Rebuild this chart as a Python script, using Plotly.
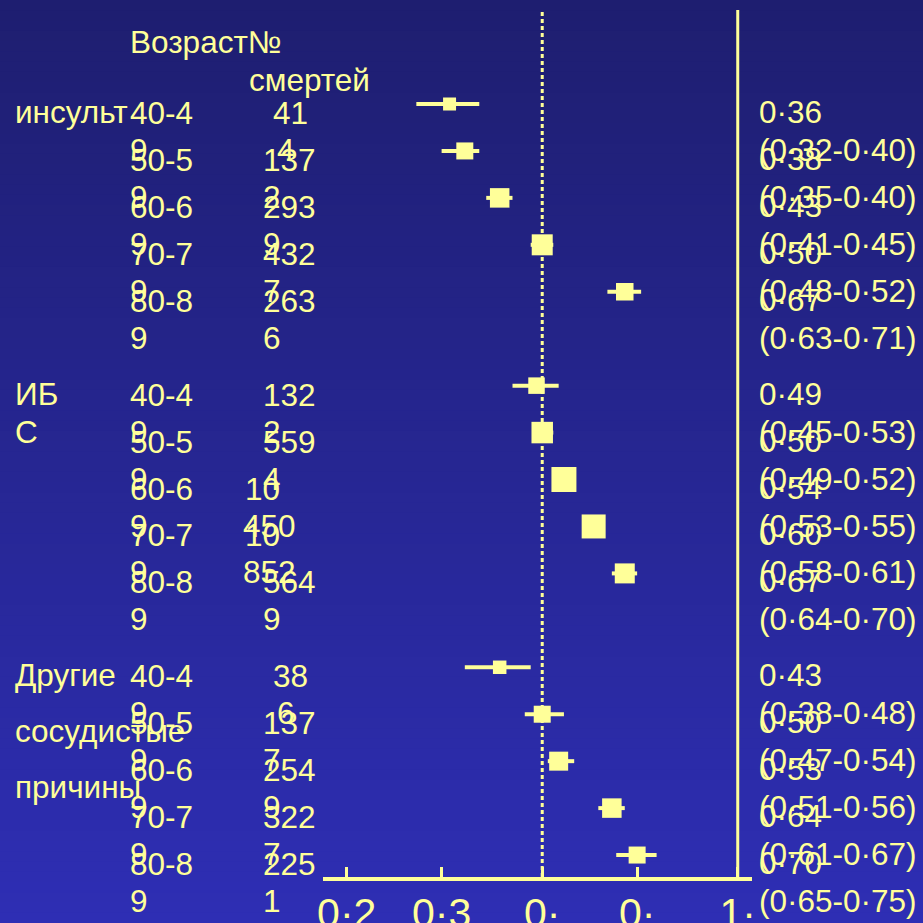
import plotly.graph_objects as go
import math

# ---------------- data ----------------
groups = [["инсульт"], ["ИБ", "С"], ["Другие", "сосудистые", "причины"]]
ages = ["40-49", "50-59", "60-69", "70-79", "80-89"]

deaths_stroke = [414, 1372, 2939, 4327, 2636]
deaths_ihd = [1322, 5594, 10450, 10852, 5649]
deaths_other = [386, 1377, 2549, 3227, 2251]

rr_stroke = [0.36, 0.38, 0.43, 0.50, 0.67]
lo_stroke = [0.32, 0.35, 0.41, 0.48, 0.63]
hi_stroke = [0.40, 0.40, 0.45, 0.52, 0.71]

rr_ihd = [0.49, 0.50, 0.54, 0.60, 0.67]
lo_ihd = [0.45, 0.49, 0.53, 0.58, 0.64]
hi_ihd = [0.53, 0.52, 0.55, 0.61, 0.70]

rr_other = [0.43, 0.50, 0.53, 0.64, 0.70]
lo_other = [0.38, 0.47, 0.51, 0.61, 0.65]
hi_other = [0.48, 0.54, 0.56, 0.67, 0.75]

# marker (box) sizes
size_stroke = [13, 17, 19.5, 21, 17.5]
size_ihd = [16.5, 21.5, 25, 24, 20]
size_other = [13.5, 17, 19, 19.5, 17]

tick_vals = [0.25, 0.35, 0.5, 0.7, 1.0]
tick_text = ["0·2", "0·3", "0·", "0·", "1·"]
ref_line = 0.5
null_line = 1.0

header_age = "Возраст№"
header_deaths = "смертей"

# ---------------- layout geometry ----------------
W = H = 923
L, R, T, B = 323, 171, 10, 46
PW = W - L - R
PH = H - T - B
ROW_PX = 46.94
FIRST_ROW_PX = 104
YC = "#FFFF99"
FONT = "Liberation Sans, Arial, sans-serif"
FS = 31.5


def px_x(px):
    return (px - L) / PW


def px_y(py):
    return (H - B - py) / PH


deaths_all = [deaths_stroke, deaths_ihd, deaths_other]
rr_all = [rr_stroke, rr_ihd, rr_other]
lo_all = [lo_stroke, lo_ihd, lo_other]
hi_all = [hi_stroke, hi_ihd, hi_other]
size_all = [size_stroke, size_ihd, size_other]

fig = go.Figure()

# gradient background
nb = 90
c_top = (30, 30, 112)
c_bot = (46, 46, 180)
shapes = []
for k in range(nb):
    f = k / (nb - 1)
    col = tuple(round(c_top[j] + (c_bot[j] - c_top[j]) * f) for j in range(3))
    y1 = 1 + T / PH - k * (H / nb) / PH
    y0 = y1 - (H / nb) / PH - 0.002
    shapes.append(dict(type="rect", xref="paper", yref="paper",
                       x0=-L / PW - 0.01, x1=(W - L) / PW + 0.01, y0=y0, y1=y1,
                       fillcolor="rgb(%d,%d,%d)" % col, line=dict(width=0), layer="below"))

shapes.append(dict(type="line", xref="x", yref="paper", x0=ref_line, x1=ref_line, y0=0, y1=1,
                   line=dict(color=YC, width=3, dash="4px,3px"), layer="below"))
shapes.append(dict(type="line", xref="x", yref="paper", x0=null_line, x1=null_line, y0=0, y1=1,
                   line=dict(color=YC, width=3), layer="below"))

ann = []


def add_text(text, px, py, size=FS):
    ann.append(dict(text=text, xref="paper", yref="paper", x=px_x(px), y=px_y(py),
                    xanchor="left", yanchor="middle", showarrow=False,
                    font=dict(family=FONT, size=size, color=YC)))


add_text(header_age, 128, 42)
add_text(header_deaths, 247, 80)

cat_gap = [38, 38, 56]
d1_x = {3: 271, 4: 261, 5: 243}
d2_x = {3: 275, 4: 261, 5: 241}


def fmt(v):
    return ("%.2f" % v).replace(".", "·")


for g in range(3):
    rows = [g * 6 + i for i in range(5)]
    wx, wy = [], []
    for lo, hi, r in zip(lo_all[g], hi_all[g], rows):
        wx += [lo, hi, None]
        wy += [r, r, None]
    fig.add_trace(go.Scatter(x=wx, y=wy, mode="lines", line=dict(color=YC, width=4),
                             showlegend=False, hoverinfo="skip"))
    fig.add_trace(go.Scatter(
        x=rr_all[g], y=rows, mode="markers",
        marker=dict(symbol="square", size=size_all[g], color=YC, opacity=1, line=dict(width=0)),
        showlegend=False, hoverinfo="skip"))
    base_px = FIRST_ROW_PX + ROW_PX * rows[0]
    for j, line in enumerate(groups[g]):
        add_text(line, 13, base_px + 8 + j * cat_gap[g])
    for i, r in enumerate(rows):
        cy = FIRST_ROW_PX + ROW_PX * r
        a = ages[i]
        add_text(a[:4], 128, cy + 9)
        add_text(a[4:], 128, cy + 46)
        n = deaths_all[g][i]
        nd = len(str(n))
        if n >= 10000:
            t1, t2 = str(n // 1000), "%03d" % (n % 1000)
        else:
            t1, t2 = str(n)[:-1], str(n)[-1]
        add_text(t1, d1_x[nd], cy + 9)
        add_text(t2, d2_x[nd], cy + 46)
        add_text(fmt(rr_all[g][i]), 757, cy + 8)
        add_text("(%s-%s)" % (fmt(lo_all[g][i]), fmt(hi_all[g][i])), 757, cy + 46)

xl = math.log10(0.25) - (346.7 - L) / 649.5
xr = xl + PW / 649.5
yt = (T - FIRST_ROW_PX) / ROW_PX
yb = (H - B - FIRST_ROW_PX) / ROW_PX

fig.update_layout(
    width=W, height=H, margin=dict(l=L, r=R, t=T, b=B, pad=0, autoexpand=False),
    paper_bgcolor="rgb(38,38,146)", plot_bgcolor="rgba(0,0,0,0)",
    shapes=shapes, annotations=ann,
    xaxis=dict(type="log", range=[xl, xr], showgrid=False, zeroline=False,
               showline=True, linecolor=YC, linewidth=4, automargin=False,
               ticks="inside", ticklen=10, tickwidth=3, tickcolor=YC,
               tickvals=tick_vals, ticktext=tick_text, ticklabelstandoff=-3,
               tickfont=dict(family=FONT, size=41, color=YC)),
    yaxis=dict(range=[yb, yt], showgrid=False, zeroline=False, showline=False,
               showticklabels=False, ticks="", automargin=False),
)

fig.write_html("out.html", config={"responsive": False, "displayModeBar": False},
               post_script="document.body.style.margin='0';document.body.style.overflow='hidden';")
